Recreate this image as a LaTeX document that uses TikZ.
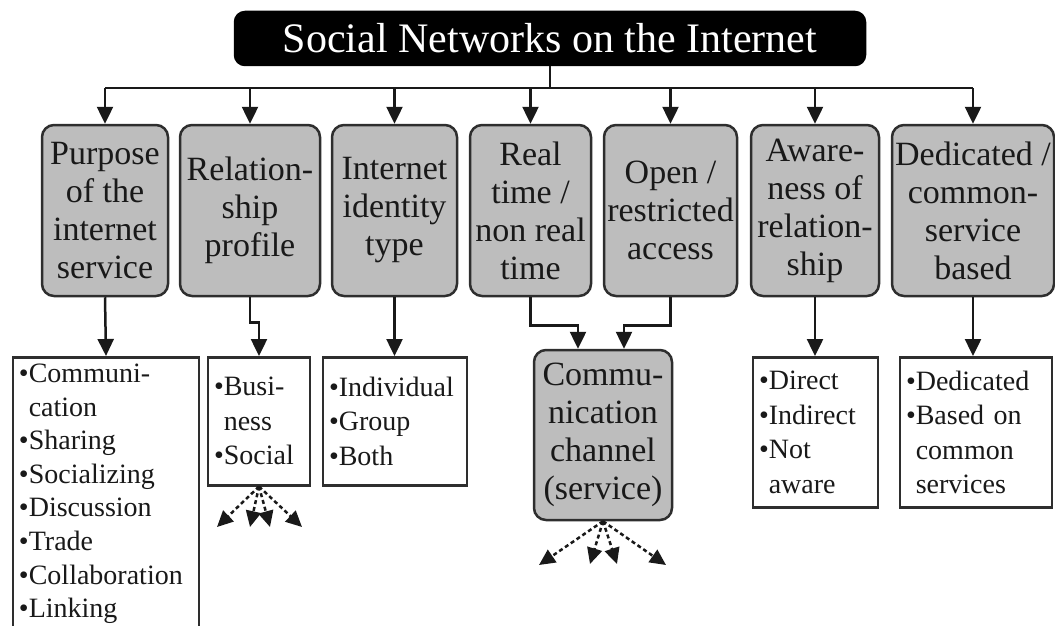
\documentclass[tikz,border=0pt]{standalone}
\usepackage{fontspec}
\setmainfont{Liberation Serif}
\usetikzlibrary{arrows.meta,calc}
\definecolor{boxgray}{HTML}{BDBDBD}
\definecolor{edge}{HTML}{2E2E2E}
\begin{document}
\begin{tikzpicture}[x=1pt,y=-1pt,
  line width=2.5pt,
  arr/.style={draw=black!90, -{Triangle[length=17pt,width=16pt]}},
  fan/.style={draw=black!90, line width=2.5pt, dash pattern=on 4pt off 3pt,
    -{Triangle[length=16pt,width=15pt]}},
  headbox/.style={draw=black, fill=black, rounded corners=10pt, text=white,
    minimum width=630pt, minimum height=53pt, inner sep=0pt,
    font=\fontsize{42}{46}\selectfont},
  catbox/.style={draw=edge, fill=boxgray, rounded corners=12pt, align=center,
    minimum height=171pt, inner sep=1pt, text=black!90,
    font=\fontsize{34}{38}\selectfont},
  listbox/.style={draw=edge, fill=white, align=left, anchor=north,
    inner xsep=6pt, inner ysep=0pt, text=black!90,
    font=\fontsize{28}{34.5}\selectfont},
]
\useasboundingbox (0,0) rectangle (1055,626);
\clip (0,0) rectangle (1055,626);

% title
\node[headbox] (title) at (550,38.5) {Social Networks on the Internet};

% categories
\node[catbox, minimum width=126pt] (c1) at (105,210.5) {Purpose\\of the\\internet\\service};
\node[catbox, minimum width=140pt] (c2) at (250,210.5) {Relation-\\ship\\profile};
\node[catbox, minimum width=125pt] (c3) at (394.5,210.5) {Internet\\identity\\type};
\node[catbox, minimum width=121pt] (c4) at (530.5,210.5) {Real\\time /\\non real\\time};
\node[catbox, minimum width=133pt] (c5) at (670.5,210.5) {Open /\\restricted\\access};
\node[catbox, minimum width=128pt] (c6) at (815,210.5) {Aware-\\ness of\\relation-\\ship};
\node[catbox, minimum width=162pt] (c7) at (973,210.5) {Dedicated /\\common-\\service\\based};

% value lists
\newcommand\bl{\textbullet}
\newcommand\ind{\phantom{\textbullet}}
\node[listbox, text width=174pt, minimum height=273pt,
  font=\fontsize{28}{33.6}\selectfont] (l1) at (106,356)
  {\bl Communi-\\\ind cation\\\bl Sharing\\\bl Socializing\\\bl Discussion\\\bl Trade\\\bl Collaboration\\\bl Linking};
\node[listbox, text width=90pt, minimum height=128pt] (l2) at (259,356)
  {\bl Busi-\\\ind ness\\\bl Social};
\node[listbox, text width=132pt, minimum height=128pt] (l3) at (395,356)
  {\bl Individual\\\bl Group\\\bl Both};
\node[catbox, minimum width=138pt, minimum height=170pt] (comm) at (603,435)
  {Commu-\\nication\\channel\\(service)};
\node[listbox, text width=113pt, minimum height=150pt] (l6) at (815.5,356)
  {\bl Direct\\\bl Indirect\\\bl Not\\\ind aware};
\node[listbox, text width=140pt, minimum height=150pt] (l7) at (976,356)
  {\bl Dedicated\\\bl Based on\\\ind common\\\ind services};

% distribution bus under the title
\coordinate (bus) at (550,88);
\draw[draw=black!90] (title.south) -- (bus);
\draw[draw=black!90] (c1.north |- bus) -- (c7.north |- bus);
\foreach \c in {c1,c2,c3,c4,c5,c6,c7}
  \draw[arr] (\c.north |- bus) -- (\c.north);

% category to values
\draw[arr] (c1.south) -- (l1.north);
\draw[arr] (c2.south) -- ++(0,25) -| (l2.north);
\draw[arr] (c3.south) -- (c3.south |- l3.north);
\draw[arr] (c4.south) -- ++(0,28) -| ($(comm.north)+(-25,0)$);
\draw[arr] (c5.south) -- ++(0,28) -| ($(comm.north)+(21,0)$);
\draw[arr] (c6.south) -- (c6.south |- l6.north);
\draw[arr] (c7.south) -- (c7.south |- l7.north);

% open-ended continuations
\coordinate (r1) at (217,527);
\coordinate (r2) at (250,527);
\coordinate (r3) at (270,527);
\coordinate (r4) at (302,527);
\foreach \e in {r1,r2,r3,r4}
  \draw[fan] (l2.south) -- (\e);
\coordinate (s1) at (539,565);
\coordinate (s2) at (590,564);
\coordinate (s3) at (617,564);
\coordinate (s4) at (666,565);
\foreach \e in {s1,s2,s3,s4}
  \draw[fan] (comm.south) -- (\e);
\end{tikzpicture}
\end{document}
